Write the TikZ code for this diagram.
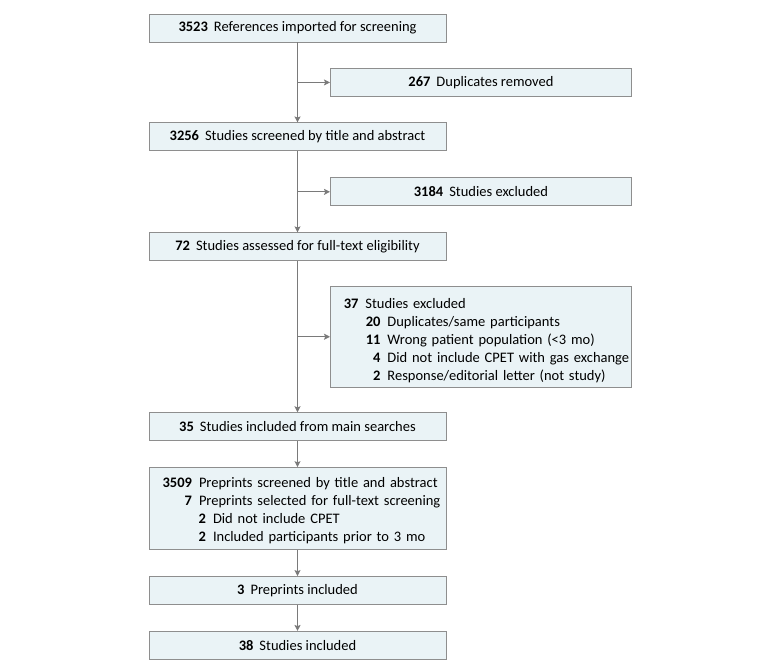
\documentclass[tikz,border=0pt]{standalone}
\usepackage{fontspec}
\setmainfont{Carlito}
\usetikzlibrary{arrows.meta, calc, positioning}
\definecolor{boxfill}{HTML}{EAF3F6}
\definecolor{boxline}{HTML}{8E8E8E}
\definecolor{flowline}{HTML}{7A7A7A}
\tikzstyle{mainbox} = [rectangle, draw=boxline, fill=boxfill, line width=0.9pt, minimum width=297pt, minimum height=28pt, inner sep=0pt, text centered, font=\fontsize{14.5}{18}\selectfont]
\tikzstyle{sidebox} = [mainbox, minimum width=301pt]
\tikzstyle{arrow} = [draw=flowline, line width=0.9pt, -{Stealth[length=6pt,width=6pt,inset=1.2pt]}]
\newcommand{\flownum}[1]{\textbf{#1}\hspace{6pt}}
\newcommand{\flowrow}[3]{\mbox{\makebox[#1][r]{\textbf{#2}}\hspace{7pt}#3}}

\begin{document}
\begin{tikzpicture}[x=1pt, y=-1pt, node distance=80pt]
	\useasboundingbox (0,0) rectangle (780,672);
	\node (Imported) [mainbox] at (297.5,28) {\flownum{3523}References imported for screening};
	\node (Screened) [mainbox, below = of Imported] {\flownum{3256}Studies screened by title and abstract};
	\node (Assessed) [mainbox, below = 81pt of Screened] {\flownum{72}Studies assessed for full-text eligibility};
	\node (Included) [mainbox, below = 151pt of Assessed] {\flownum{35}Studies included from main searches};
	\node (Preprints) [mainbox, minimum height=82pt, text width=271pt, align=left, below = 26pt of Included] {
		\rule{0pt}{14.5pt}\flowrow{30pt}{3509}{Preprints screened by title and abstract}\\
		\flowrow{30pt}{7}{Preprints selected for full-text screening}\\
		\flowrow{44pt}{2}{Did not include CPET}\\
		\flowrow{44pt}{2}{Included participants prior to 3 mo}};
	\node (PreprintsIncl) [mainbox, below = 26pt of Preprints] {\flownum{3}Preprints included};
	\node (Total) [mainbox, below = 26pt of PreprintsIncl] {\flownum{38}Studies included};
	\path (Imported.south) -- (Screened.north) coordinate[pos=0.5] (Split1);
	\path (Screened.south) -- (Assessed.north) coordinate[pos=0.5] (Split2);
	\path (Assessed.south) -- (Included.north) coordinate[pos=0.5] (Split3);
	\node (Duplicates) [sidebox, right = 32.5pt of Split1] {\flownum{267}Duplicates removed};
	\node (ExclAbstract) [sidebox, right = 32.5pt of Split2] {\flownum{3184}Studies excluded};
	\node (ExclFullText) [sidebox, minimum height=101pt, text width=275pt, align=left, right = 32.5pt of Split3] {
		\rule{0pt}{18.5pt}\flowrow{15pt}{37}{Studies excluded}\\
		\flowrow{37pt}{20}{Duplicates/same participants}\\
		\flowrow{37pt}{11}{Wrong patient population (<3 mo)}\\
		\flowrow{37pt}{4}{Did not include CPET with gas exchange}\\
		\flowrow{37pt}{2}{Response/editorial letter (not study)}};
	\draw [arrow] (Imported) -- (Screened);
	\draw [arrow] (Screened) -- (Assessed);
	\draw [arrow] (Assessed) -- (Included);
	\draw [arrow] (Included) -- (Preprints);
	\draw [arrow] (Preprints) -- (PreprintsIncl);
	\draw [arrow] (PreprintsIncl) -- (Total);
	\draw [arrow] (Split1) -- (Duplicates);
	\draw [arrow] (Split2) -- (ExclAbstract);
	\draw [arrow] (Split3) -- (ExclFullText);
\end{tikzpicture}
\end{document}
